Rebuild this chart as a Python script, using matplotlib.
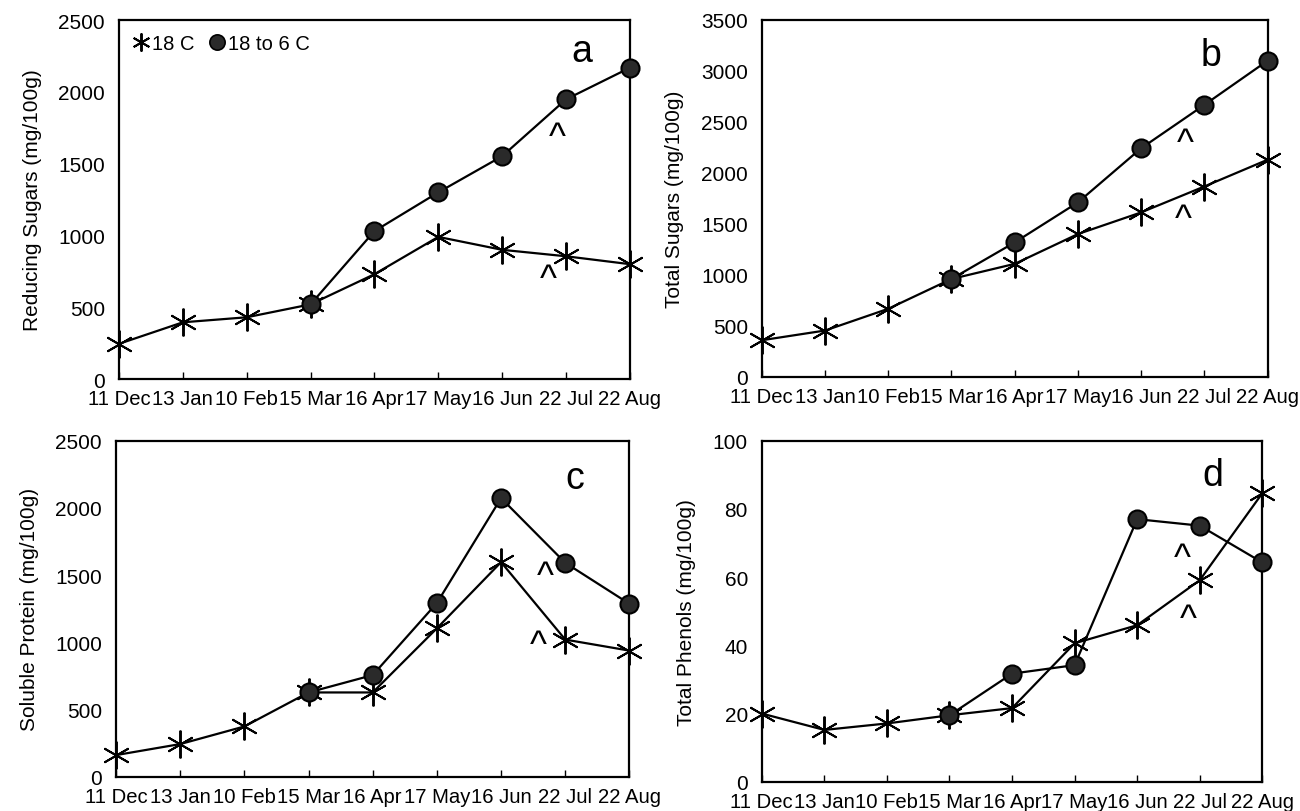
import numpy as np
import matplotlib
matplotlib.use("Agg")
import matplotlib.pyplot as plt
from matplotlib.lines import Line2D

plt.rcParams["font.family"] = ["Liberation Sans", "DejaVu Sans"]

dates = ["11 Dec", "13 Jan", "10 Feb", "15 Mar", "16 Apr",
         "17 May", "16 Jun", "22 Jul", "22 Aug"]
nan = np.nan

# 18 C (asterisks) and 18 to 6 C (circles; starts at 15 Mar)
reducing_18 = [245, 395, 430, 520, 730, 990, 900, 855, 800]
reducing_6 = [nan, nan, nan, 520, 1030, 1300, 1552, 1948, 2168]
total_18 = [360, 455, 668, 960, 1108, 1400, 1612, 1866, 2128]
total_6 = [nan, nan, nan, 960, 1318, 1710, 2240, 2665, 3098]
protein_18 = [162, 244, 375, 628, 628, 1105, 1597, 1021, 939]
protein_6 = [nan, nan, nan, 628, 757, 1293, 2073, 1592, 1287]
phenol_18 = [20.0, 15.2, 17.1, 19.5, 21.6, 40.6, 45.9, 59.1, 84.6]
phenol_6 = [nan, nan, nan, 19.5, 31.7, 34.2, 77.0, 75.1, 64.3]

# "^" marks near the 22 Jul point: (x index, value) for each series
carets = {
    "a": [(6.87, 1680), (6.73, 690)],
    "b": [(6.70, 2290), (6.67, 1540)],
    "c": [(6.69, 1490), (6.58, 975)],
    "d": [(6.72, 65.5), (6.82, 47.5)],
}

panels = [
    ("a", "Reducing Sugars (mg/100g)", reducing_18, reducing_6, 2500, 500,
     [0.0915, 0.532, 0.393, 0.442], (0.905, 0.915)),
    ("b", "Total Sugars (mg/100g)", total_18, total_6, 3500, 500,
     [0.586, 0.5345, 0.389, 0.440], (0.889, 0.90)),
    ("c", "Soluble Protein (mg/100g)", protein_18, protein_6, 2500, 500,
     [0.0892, 0.042, 0.395, 0.414], (0.893, 0.89)),
    ("d", "Total Phenols (mg/100g)", phenol_18, phenol_6, 100, 20,
     [0.586, 0.036, 0.385, 0.420], (0.902, 0.90)),
]

star = (6, 2, 0)
star_kw = dict(color="black", lw=1.6, marker=star, ms=20, mew=1.4,
               clip_on=False, zorder=3)
dot_kw = dict(color="black", lw=1.6, marker="o", ms=13, mfc="#2a2a2a",
              mec="black", mew=1.5, clip_on=False, zorder=4)

fig = plt.figure(figsize=(13, 8.12), dpi=100)

for tag, ylabel, s18, s6, ymax, ystep, rect, tagpos in panels:
    ax = fig.add_axes(rect)
    x = np.arange(len(dates))
    ax.plot(x, s18, **star_kw)
    ax.plot(x, s6, **dot_kw)

    ax.set_xlim(0, len(dates) - 1)
    ax.set_ylim(0, ymax)
    ax.set_xticks(x)
    ax.set_xticklabels(dates, fontsize=14.6)
    ax.set_yticks(np.arange(0, ymax + 1, ystep))
    ax.tick_params(axis="x", direction="in", length=5, width=1, pad=7.5)
    ax.tick_params(axis="y", length=0, pad=10, labelsize=15)
    ax.set_ylabel(ylabel, fontsize=15, labelpad=12)
    for sp in ax.spines.values():
        sp.set_linewidth(1.6)

    ax.text(tagpos[0], tagpos[1], tag, transform=ax.transAxes,
            fontsize=27, ha="center", va="center")
    for cx, cy in carets[tag]:
        ax.text(cx, cy, "^", fontsize=26, ha="center", va="center")

    if tag == "a":
        handles = [
            Line2D([], [], ls="none", marker=star, ms=13, mew=1.4, color="black"),
            Line2D([], [], ls="none", marker="o", ms=11, mfc="#2a2a2a",
                   mec="black", mew=1.2),
        ]
        ax.legend(handles, ["18 C", "18 to 6 C"], loc="upper left", ncol=2,
                  frameon=False, fontsize=14.5, handlelength=0.8,
                  handletextpad=0.15, columnspacing=0.7,
                  bbox_to_anchor=(0.0, 1.0), borderaxespad=0.3)

fig.savefig("out.png", dpi=100)
